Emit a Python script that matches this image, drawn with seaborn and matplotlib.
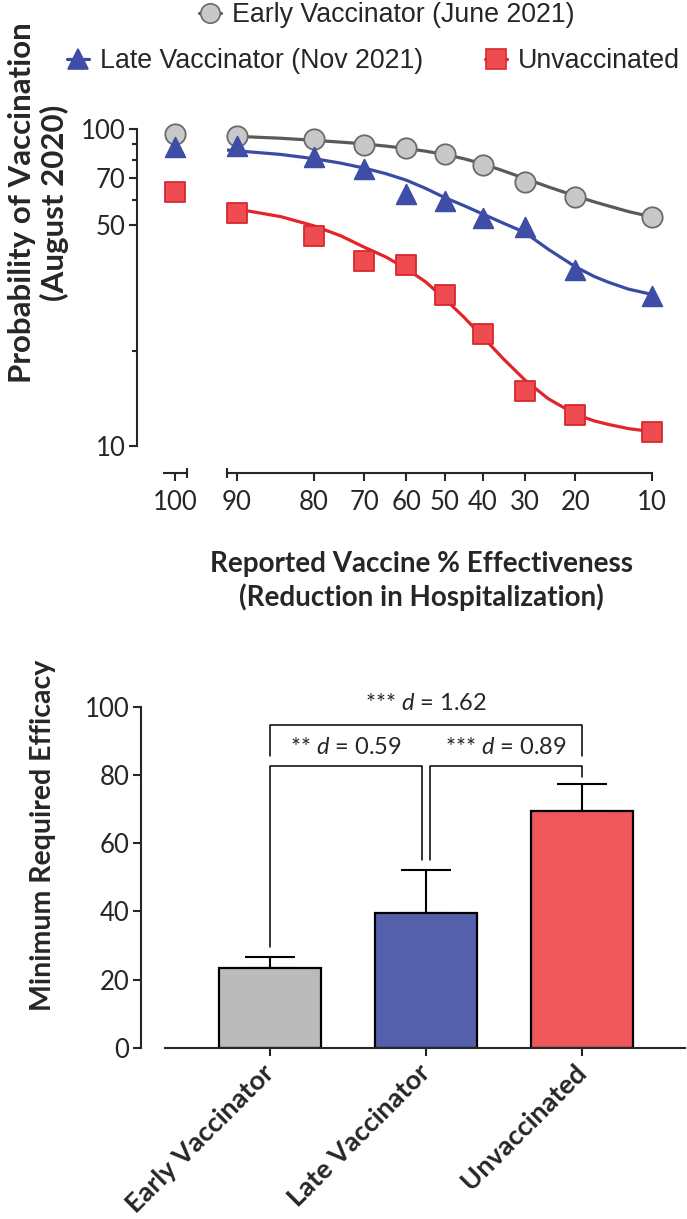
import numpy as np
import pandas as pd
import matplotlib
matplotlib.use("Agg")
import matplotlib.pyplot as plt
from matplotlib.lines import Line2D
from matplotlib.ticker import FixedLocator, FixedFormatter, NullFormatter
import seaborn as sns

# ---------------- data ----------------
effectiveness = [90, 80, 70, 60, 50, 40, 30, 20, 10]
early_pts = [95.5, 93.2, 89.5, 87.3, 83.3, 77.1, 68.3, 61.3, 52.9]
late_pts = [88.6, 81.8, 75.2, 62.4, 59.4, 52.6, 49.2, 36.0, 29.8]
unvac_pts = [54.3, 46.1, 38.3, 37.4, 29.9, 22.5, 14.9, 12.5, 11.1]

eff100 = [100]
early_100 = [96.6]
late_100 = [87.8]
unvac_100 = [63.5]

curve_x = [90.9, 90, 85, 80, 75, 70, 65, 60, 55, 50, 45, 40, 35, 30, 25, 20, 17, 15, 12.5, 10]
early_curve = [95.2, 95.0, 93.7, 92.3, 91.1, 89.9, 88.5, 87.0, 85.3, 83.3, 80.8, 77.8, 74.0, 70.0, 65.8, 61.6, 59.0, 57.3, 55.0, 52.9]
late_curve = [86.0, 85.5, 83.3, 80.8, 78.2, 75.4, 72.4, 69.1, 65.1, 60.9, 57.5, 54.0, 50.6, 47.3, 41.8, 36.8, 34.3, 32.9, 31.3, 30.1]
unvac_curve = [56.6, 56.0, 53.0, 49.6, 46.1, 42.4, 39.5, 36.3, 33.0, 29.2, 25.6, 22.1, 18.9, 16.2, 14.1, 12.6, 12.0, 11.7, 11.35, 11.1]

series_names = ["Early Vaccinator (June 2021)", "Late Vaccinator (Nov 2021)", "Unvaccinated"]

groups = ["Early Vaccinator", "Late Vaccinator", "Unvaccinated"]
bar_means = [23.4, 39.6, 69.5]
bar_sems = [3.3, 12.6, 7.8]

brackets = [  # x1, x2, level, left leg end, right leg end, label
    (0.0, 0.975, 82.5, 29.6, 55.0, "** $d$ = 0.59"),
    (1.025, 2.0, 82.5, 55.0, 79.3, "*** $d$ = 0.89"),
    (0.0, 2.0, 94.7, 85.7, 85.7, "*** $d$ = 1.62"),
]

# ---------------- style ----------------
sns.set_style("ticks")
plt.rcParams["font.family"] = ["Lato", "DejaVu Sans"]
plt.rcParams["mathtext.fontset"] = "custom"
plt.rcParams["mathtext.it"] = "Lato:italic"
plt.rcParams["mathtext.rm"] = "Lato"

GRAY_F, GRAY_E, GRAY_L = "#C8C8C8", "#6A6A6A", "#5A5A5A"
BLUE_F, BLUE_E, BLUE_L = "#3E4EA7", "#3E4EA7", "#3B4BA4"
RED_F, RED_E, RED_L = "#EF4C52", "#D8282E", "#E1252B"
BAR_COLORS = ["#BBBBBB", "#5560AD", "#EF575D"]

W, H = 687, 1219
fig = plt.figure(figsize=(W / 100, H / 100), dpi=100)


def frac(l, r, top, bottom):
    return [l / W, (H - bottom) / H, (r - l) / W, (bottom - top) / H]


def fwd(x):
    p = np.clip(np.asarray(x, dtype=float) / 100.0, 1e-6, 1 - 1e-6)
    return np.log(p / (1 - p))


def inv(y):
    return 100.0 / (1.0 + np.exp(-np.asarray(y, dtype=float)))


TICK_FS = 18.5
SPW = 1.5

# ---------------- top panel ----------------
ax_m = fig.add_axes(frac(226.7, 652, 129.3, 446))
ax_h = fig.add_axes(frac(164, 186.7, 129.3, 446))

for ax in (ax_m, ax_h):
    ax.set_yscale("log")
    ax.set_ylim(10, 100)
    ax.patch.set_alpha(0)
    ax.spines["top"].set_visible(False)
    ax.spines["right"].set_visible(False)
    ax.spines["bottom"].set_position(("outward", 19.2))
    ax.spines["bottom"].set_linewidth(SPW)
    ax.spines["left"].set_linewidth(SPW)

ax_m.set_xscale("function", functions=(fwd, inv))
ax_m.set_xlim(90.94, 10)
ax_h.set_xlim(111, 88.3)

ax_m.spines["left"].set_visible(False)
ax_m.tick_params(axis="y", which="both", left=False, labelleft=False)
ax_h.spines["left"].set_position(("outward", 19.4))

# y axis ticks
ax_h.yaxis.set_major_locator(FixedLocator([10, 50, 70, 100]))
ax_h.yaxis.set_major_formatter(FixedFormatter(["10", "50", "70", "100"]))
ax_h.yaxis.set_minor_locator(FixedLocator([20, 60, 80, 90]))
ax_h.yaxis.set_minor_formatter(NullFormatter())
ax_h.tick_params(axis="y", which="major", length=5.5, width=SPW, labelsize=TICK_FS, pad=3)
ax_h.tick_params(axis="y", which="minor", length=3.5, width=SPW)

# x axis ticks
ax_m.xaxis.set_major_locator(FixedLocator(effectiveness))
ax_m.xaxis.set_major_formatter(FixedFormatter([str(v) for v in effectiveness]))
ax_m.xaxis.set_minor_locator(FixedLocator([90.94]))
ax_m.xaxis.set_minor_formatter(NullFormatter())
ax_h.xaxis.set_major_locator(FixedLocator(eff100))
ax_h.xaxis.set_major_formatter(FixedFormatter([str(v) for v in eff100]))
ax_h.xaxis.set_minor_locator(FixedLocator([88.3]))
ax_h.xaxis.set_minor_formatter(NullFormatter())
for ax in (ax_m, ax_h):
    ax.tick_params(axis="x", which="major", length=5.5, width=SPW, labelsize=TICK_FS, pad=7)
    ax.tick_params(axis="x", which="minor", length=7, width=SPW, direction="inout")

# curves
curve_df = pd.DataFrame({"x": curve_x * 3,
                         "y": early_curve + late_curve + unvac_curve,
                         "g": sum([[n] * len(curve_x) for n in series_names], [])})
sns.lineplot(data=curve_df, x="x", y="y", hue="g", palette=[GRAY_L, BLUE_L, RED_L],
             linewidth=2.3, legend=False, ax=ax_m, sort=False, zorder=2)

pts_df = pd.DataFrame({"x": effectiveness * 3, "y": early_pts + late_pts + unvac_pts,
                       "g": sum([[n] * len(effectiveness) for n in series_names], [])})
h_df = pd.DataFrame({"x": eff100 * 3, "y": early_100 + late_100 + unvac_100,
                     "g": series_names})

specs = [(series_names[0], "o", GRAY_F, GRAY_E, 215),
         (series_names[1], "^", BLUE_F, BLUE_E, 200),
         (series_names[2], "s", RED_F, RED_E, 215)]
for name, mk, fc, ec, s in specs:
    for ax, d in ((ax_m, pts_df), (ax_h, h_df)):
        sub = d[d["g"] == name]
        sns.scatterplot(data=sub, x="x", y="y", marker=mk, s=s, color=fc, edgecolor=ec,
                        linewidth=1.3, ax=ax, legend=False, zorder=3, clip_on=False)

ax_m.set_ylabel("")
ax_m.set_xlabel("Reported Vaccine % Effectiveness\n(Reduction in Hospitalization)",
                fontsize=20, fontweight="bold", linespacing=1.25)
ax_m.xaxis.label.set_va("center")
ax_m.xaxis.set_label_coords((421 - 226.7) / 425.3, -(581 - 446) / 316.7)
ax_h.set_xlabel("")
ax_h.set_ylabel("Probability of Vaccination\n(August 2020)", fontsize=22.5,
                fontweight="bold", linespacing=1.2)
ax_h.yaxis.label.set_va("center")
ax_h.yaxis.set_label_coords((38.5 - 164) / 22.7, (446 - 203) / 316.7)

# legends
leg_specs = [(series_names[0], "o", GRAY_F, GRAY_E, GRAY_L, 210, 15),
             (series_names[1], "^", BLUE_F, BLUE_E, BLUE_L, 78, 61),
             (series_names[2], "s", RED_F, RED_E, RED_L, 496, 61)]
LEG_FS = 19.3
em = LEG_FS * 100 / 72
hl = 0.85
for name, mk, fc, ec, lc, mx, my in leg_specs:
    hnd = Line2D([], [], color=lc, lw=2.3, marker=mk, markersize=14,
                 markerfacecolor=fc, markeredgecolor=ec, markeredgewidth=1.2)
    left = mx - hl * em / 2
    fig.legend([hnd], [name], loc="center left",
               bbox_to_anchor=(left / W, (H - my) / H), frameon=False,
               borderpad=0, borderaxespad=0, handlelength=hl, handletextpad=0.4,
               prop={"family": ["Liberation Sans", "DejaVu Sans"], "size": LEG_FS})

# ---------------- bottom panel ----------------
axb = fig.add_axes(frac(165, 685, 706.7, 1048))
bar_df = pd.DataFrame({"group": groups, "mean": bar_means})
sns.barplot(data=bar_df, x="group", y="mean", hue="group", palette=BAR_COLORS,
            width=0.65, edgecolor="black", linewidth=1.6, errorbar=None,
            saturation=1, legend=False, ax=axb, zorder=2)
axb.errorbar(x=np.arange(len(groups)), y=bar_means, yerr=[np.zeros(len(groups)), bar_sems],
             fmt="none", ecolor="black", elinewidth=1.5, capsize=18, capthick=1.5, zorder=1)

axb.set_xlim(-0.673, 2.66)
axb.set_ylim(0, 100)
axb.spines["top"].set_visible(False)
axb.spines["right"].set_visible(False)
axb.spines["left"].set_position(("outward", 17.3))
axb.spines["left"].set_linewidth(SPW)
axb.spines["bottom"].set_linewidth(SPW)
axb.set_yticks([0, 20, 40, 60, 80, 100])
axb.tick_params(axis="y", length=5.5, width=SPW, labelsize=TICK_FS, pad=3)
axb.tick_params(axis="x", length=6, width=SPW, pad=9)
for lab in axb.get_xticklabels():
    lab.set_rotation(45)
    lab.set_ha("right")
    lab.set_va("center")
    lab.set_rotation_mode("anchor")
    lab.set_fontsize(19.5)
    lab.set_fontweight("bold")
axb.set_xlabel("")
axb.set_ylabel("Minimum Required Efficacy", fontsize=20.5, fontweight="bold")
axb.yaxis.label.set_va("center")
axb.yaxis.set_label_coords((43 - 165) / 520, (1048 - 835) / 341.3)

for x1, x2, lev, l1, l2, txt in brackets:
    axb.plot([x1, x1, x2, x2], [l1, lev, lev, l2], color="black", lw=1.1,
             clip_on=False, zorder=3)
for i, (x1, x2, lev, l1, l2, txt) in enumerate(brackets):
    ty = lev + 5.5 if i < 2 else lev + 6.1
    axb.text((x1 + x2) / 2, ty, txt, ha="center", va="center", fontsize=17,
             clip_on=False)

fig.savefig("out.png", dpi=100)
